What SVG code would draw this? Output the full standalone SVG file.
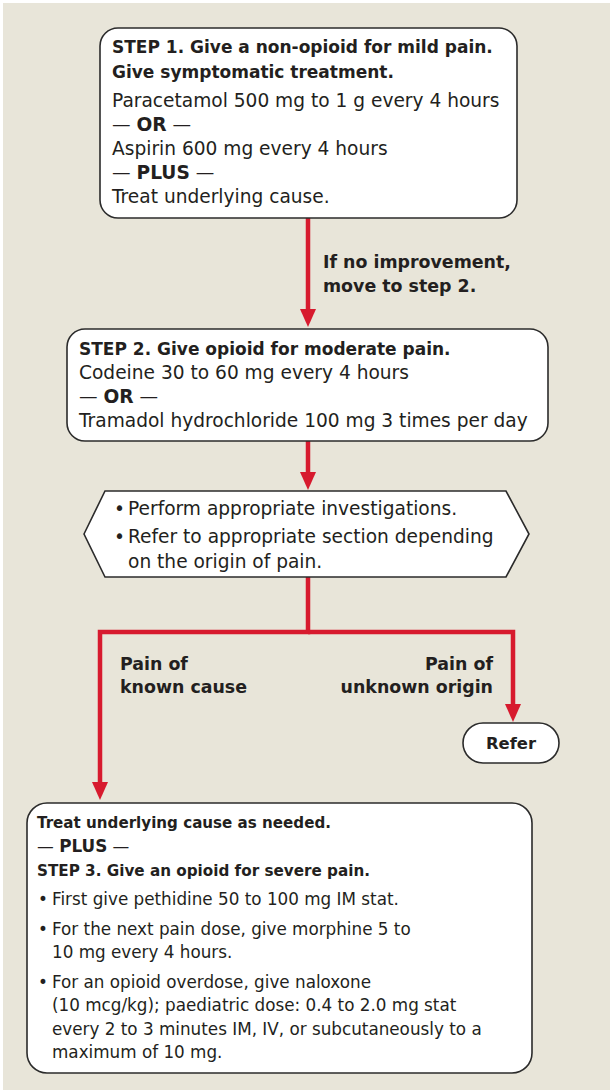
<svg xmlns="http://www.w3.org/2000/svg" width="610" height="1090" viewBox="0 0 610 1090">
<defs>
<marker id="ah" markerUnits="userSpaceOnUse" markerWidth="18" markerHeight="16" viewBox="0 0 18 16" refX="8" refY="8" orient="auto">
<path d="M0,0 L18,8 L0,16 z" fill="#D71A2E"/>
</marker>
</defs>
<style>
.box{fill:#fff;stroke:#2b2b2b;stroke-width:1.6}
text{font-family:"DejaVu Sans","Open Sans",sans-serif;fill:#231F20}
.t1{font-size:18.6px}
.b1{font-size:17px;font-weight:bold}
.lb{font-size:17.4px;font-weight:bold}
.t4{font-size:16.8px}
.b4{font-size:16.4px;font-weight:bold}
.bo{font-weight:bold}
.con{fill:none;stroke:#D71A2E;stroke-width:4.5;marker-end:url(#ah)}
</style>
<rect x="3" y="3" width="607" height="1087" fill="#E8E5D9"/>
<g id="connectors">
<path class="con" d="M308,218 V317"/>
<path class="con" d="M308,441 V480"/>
<path class="con" d="M308,577 V632 H100 V790"/>
<path class="con" d="M308,632 H513 V712"/>
</g>
<g id="step1">
<rect class="box" x="100" y="28" width="417" height="190" rx="18"/>
<text class="b1" x="112" y="53">STEP 1. Give a non-opioid for mild pain.</text>
<text class="b1" x="112" y="78">Give symptomatic treatment.</text>
<text class="t1" x="112" y="107">Paracetamol 500 mg to 1 g every 4 hours</text>
<text class="t1" x="112" y="131">— <tspan class="bo">OR</tspan> —</text>
<text class="t1" x="112" y="155">Aspirin 600 mg every 4 hours</text>
<text class="t1" x="112" y="179">— <tspan class="bo">PLUS</tspan> —</text>
<text class="t1" x="112" y="203">Treat underlying cause.</text>
</g>
<g id="label1">
<text class="lb" x="323" y="268">If no improvement,</text>
<text class="lb" x="323" y="292">move to step 2.</text>
</g>
<g id="step2">
<rect class="box" x="67" y="329" width="481" height="112" rx="18"/>
<text class="b1" x="79" y="355">STEP 2. Give opioid for moderate pain.</text>
<text class="t1" x="79" y="379">Codeine 30 to 60 mg every 4 hours</text>
<text class="t1" x="79" y="403">— <tspan class="bo">OR</tspan> —</text>
<text class="t1" x="79" y="427">Tramadol hydrochloride 100 mg 3 times per day</text>
</g>
<g id="investigate">
<polygon class="box" points="84,534 105,491 506,491 529,534 506,577 105,577"/>
<text class="t1" y="515"><tspan x="114">•</tspan><tspan x="128">Perform appropriate investigations.</tspan></text>
<text class="t1" y="543"><tspan x="114">•</tspan><tspan x="128">Refer to appropriate section depending</tspan></text>
<text class="t1" x="128" y="568">on the origin of pain.</text>
</g>
<g id="labels2">
<text class="lb" x="120" y="670">Pain of</text>
<text class="lb" x="120" y="693">known cause</text>
<text class="lb" x="493" y="670" text-anchor="end">Pain of</text>
<text class="lb" x="493" y="693" text-anchor="end">unknown origin</text>
</g>
<g id="refer">
<rect class="box" x="463" y="723" width="96" height="40" rx="20"/>
<text class="lb" x="511" y="749" text-anchor="middle" style="font-size:16.4px">Refer</text>
</g>
<g id="step3">
<rect class="box" x="27" y="803" width="505" height="270" rx="20"/>
<text class="b4" x="37" y="828" textLength="294" lengthAdjust="spacingAndGlyphs">Treat underlying cause as needed.</text>
<text class="t4" x="37" y="852">— <tspan class="bo">PLUS</tspan> —</text>
<text class="b4" x="37" y="876" textLength="333" lengthAdjust="spacingAndGlyphs">STEP 3. Give an opioid for severe pain.</text>
<text class="t4" y="905"><tspan x="38">•</tspan><tspan x="52">First give pethidine 50 to 100 mg IM stat.</tspan></text>
<text class="t4" y="935"><tspan x="38">•</tspan><tspan x="52">For the next pain dose, give morphine 5 to</tspan></text>
<text class="t4" x="52" y="958">10 mg every 4 hours.</text>
<text class="t4" y="988"><tspan x="38">•</tspan><tspan x="52">For an opioid overdose, give naloxone</tspan></text>
<text class="t4" x="52" y="1011">(10 mcg/kg); paediatric dose: 0.4 to 2.0 mg stat</text>
<text class="t4" x="52" y="1035">every 2 to 3 minutes IM, IV, or subcutaneously to a</text>
<text class="t4" x="52" y="1058">maximum of 10 mg.</text>
</g>
</svg>
